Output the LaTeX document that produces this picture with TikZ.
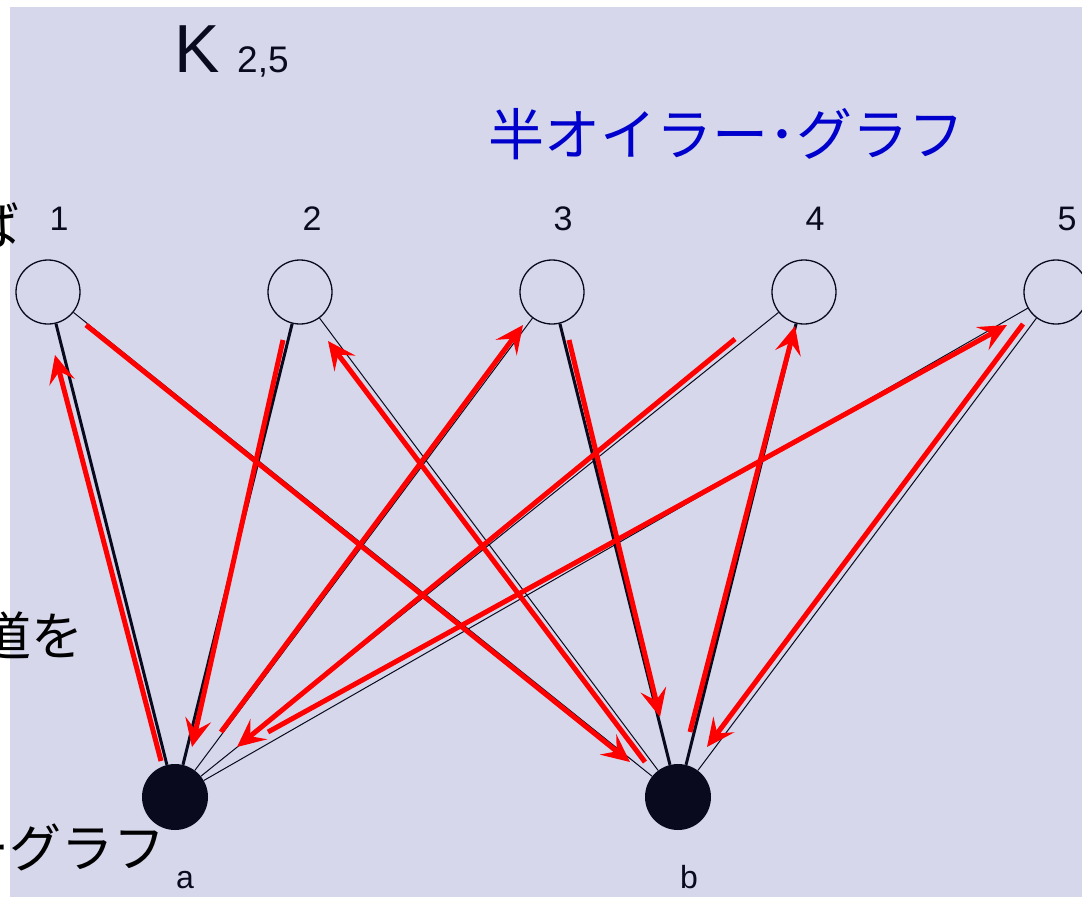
\documentclass[tikz,border=0pt]{standalone}
\usepackage{fontspec}
\setmainfont{Liberation Sans}
\newfontfamily\jp{Noto Sans CJK JP}
\usetikzlibrary{arrows.meta}
\definecolor{bgc}{RGB}{214,215,235}
\definecolor{dark}{RGB}{10,10,30}
\definecolor{titleblue}{RGB}{0,0,204}
\definecolor{arrred}{RGB}{255,0,0}
\tikzset{
  vert/.style={circle,draw=dark,line width=1.3pt,minimum size=64pt,inner sep=0pt},
  bignode/.style={circle,fill=dark,minimum size=66pt,inner sep=0pt},
  thickedge/.style={draw=dark,line width=3pt},
  thinedge/.style={draw=dark,line width=1pt},
  redarrow/.style={draw=arrred,line width=5pt,-{Stealth[length=28pt,width=26pt,inset=11pt]}},
  numlabel/.style={anchor=base,inner sep=0pt,font=\fontsize{34}{34}\selectfont,text=dark},
  jpleft/.style={anchor=east,inner sep=0pt,font=\jp\fontsize{52}{52}\selectfont,text=black}
}
\begin{document}
\begin{tikzpicture}[x=1pt,y=-1pt]
\useasboundingbox (0,0) rectangle (1082,897);
\fill[bgc] (10,7) rectangle (1082,897);
% titles
\node[anchor=base west,inner sep=0pt,font=\fontsize{68}{68}\selectfont,text=dark] (K) at (174,72) {K};
\node[anchor=base west,inner sep=0pt,font=\fontsize{37}{37}\selectfont,text=dark] (Ksub) at (237,72) {2,5};
\node[inner sep=0pt,font=\jp\fontsize{56}{56}\selectfont,text=titleblue] (title) at (726,134) {半オイラー･グラフ};
% overflowing left text
\node[jpleft] (t1) at (20,225) {ば};
\node[jpleft] (t2) at (84,636) {道を};
\node[jpleft] (t3) at (166,847) {ーグラフ};
% vertices
\node[vert] (v1) at (48,292) {};
\node[vert] (v2) at (300,292) {};
\node[vert] (v3) at (552,292) {};
\node[vert] (v4) at (804,292) {};
\node[vert] (v5) at (1056,292) {};
\node[bignode] (a) at (175,797) {};
\node[bignode] (b) at (678,797) {};
% labels
\node[numlabel] (l1) at (59,230) {1};
\node[numlabel] (l2) at (312,230) {2};
\node[numlabel] (l3) at (563,230) {3};
\node[numlabel] (l4) at (815,230) {4};
\node[numlabel] (l5) at (1067,230) {5};
\node[numlabel,font=\fontsize{32}{32}\selectfont] (la) at (185,888) {a};
\node[numlabel,font=\fontsize{32}{32}\selectfont] (lb) at (689,888) {b};
% edges
\draw[thickedge] (a) -- (v1);
\draw[thickedge] (a) -- (v2);
\draw[thinedge] (a) -- (v3);
\draw[thinedge] (a) -- (v4);
\draw[thinedge] (a) -- (v5);
\draw[thinedge] (b) -- (v1);
\draw[thinedge] (b) -- (v2);
\draw[thickedge] (b) -- (v3);
\draw[thickedge] (b) -- (v4);
\draw[thinedge] (b) -- (v5);
% red arrow endpoints
\coordinate (r1s) at (161,761);  \coordinate (r1e) at (55,355);
\coordinate (r2s) at (86,325);   \coordinate (r2e) at (630,762);
\coordinate (r3s) at (645,762);  \coordinate (r3e) at (328,341);
\coordinate (r4s) at (283,340);  \coordinate (r4e) at (192,747);
\coordinate (r5s) at (221,732);  \coordinate (r5e) at (523,325);
\coordinate (r6s) at (569,340);  \coordinate (r6e) at (660,717);
\coordinate (r7s) at (690,732);  \coordinate (r7e) at (795,326);
\coordinate (r8s) at (735,339);  \coordinate (r8e) at (237,747);
\coordinate (r9s) at (268,732);  \coordinate (r9e) at (1007,325);
\coordinate (r10s) at (1023,324); \coordinate (r10e) at (707,747);
\draw[redarrow] (r1s) -- (r1e);
\draw[redarrow] (r2s) -- (r2e);
\draw[redarrow] (r3s) -- (r3e);
\draw[redarrow] (r4s) -- (r4e);
\draw[redarrow] (r5s) -- (r5e);
\draw[redarrow] (r6s) -- (r6e);
\draw[redarrow] (r7s) -- (r7e);
\draw[redarrow] (r8s) -- (r8e);
\draw[redarrow] (r9s) -- (r9e);
\draw[redarrow] (r10s) -- (r10e);
\end{tikzpicture}
\end{document}
